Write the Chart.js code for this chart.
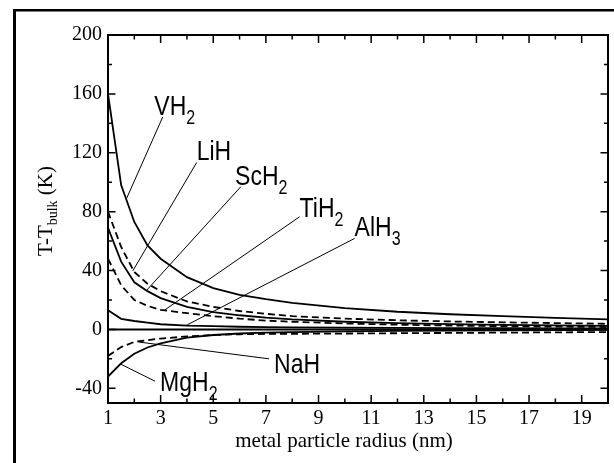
<!DOCTYPE html>
<html><head><meta charset="utf-8">
<script src="https://cdn.jsdelivr.net/npm/chart.js@4"></script>
<style>html,body{margin:0;padding:0;background:#fff;} #wrap{width:614px;height:463px;position:relative;}</style>
</head><body><div id="wrap"><canvas id="c" width="614" height="463"></canvas></div>
<script>
// ---- data ----
const radius = [1,1.5,2,2.5,3,4,5,6,7,8,10,12,14,16,18,20];
const VH2  = [160,98,73,57,48,35.5,28,23.5,20.5,18,14.5,12,10.3,9,7.8,6.8];
const LiH  = [80,56,39,31,26,19,15.3,12.5,10.6,9,7.3,6.2,5.4,4.8,4.3,3.8];
const ScH2 = [69,46,32,26,21.3,15.3,11.8,9.6,8,6.8,5.2,4.3,3.6,3.1,2.7,2.4];
const TiH2 = [48,30,20,16,13.3,11,9,7.3,6,5.2,4,3.2,2.6,2.2,1.9,1.6];
const AlH3 = [13,7.2,5.7,4.6,3.5,2.6,2.2,1.8,1.6,1.4,1.2,1,0.9,0.8,0.7,0.6];
const NaH  = [-18,-12,-8.5,-7.3,-6.2,-4.8,-3.8,-3.3,-3.1,-3,-2.8,-2.6,-2.4,-2.2,-2,-1.8];
const MgH2 = [-32,-23,-16.5,-12.3,-9.5,-5.6,-3.8,-2.8,-2.2,-1.8,-1.3,-1,-0.8,-0.6,-0.4,-0.3];
const zeroX = [1,20];
const zeroY = [0,0];

const xMajorTicks = [1,3,5,7,9,11,13,15,17,19];
const xMinorTicks = [2,4,6,8,10,12,14,16,18,20];
const yMajorTicks = [-40,0,40,80,120,160,200];
const yMinorTicks = [-20,20,60,100,140,180];

// annotation labels (text anchor in data units: left / baseline)
const labelMain = ['VH','LiH','ScH','TiH','AlH','NaH','MgH'];
const labelSub  = ['2','','2','2','3','','2'];
const labelX    = [2.76,4.37,5.83,8.28,10.37,7.31,2.98];
const labelY    = [145.9,115.2,98.2,76.5,63.4,-29.3,-41.6];
// leader lines (from label to curve)
const leadFromX = [3.08,4.37,6.05,8.28,10.37,7.12,2.79];
const leadFromY = [144.3,113.4,97,76.5,61.8,-20,-35.2];
const leadToX   = [1.71,1.94,2.47,3.14,3.97,2.18,1.46];
const leadToY   = [89.1,39.7,26.6,13,2.7,-8.6,-23.4];

// ---- build datasets ----
function series(ys, dashed){
  return {data: radius.map((r,i)=>({x:r,y:ys[i]})), borderColor:'#000', borderWidth:1.8,
    borderDash: dashed?[7,4]:[], pointRadius:0, tension:0, fill:false};
}
const datasets = [
  series(VH2,false), series(LiH,true), series(ScH2,false), series(TiH2,true),
  series(AlH3,false), series(NaH,true), series(MgH2,false),
  {data: zeroX.map((x,i)=>({x:x,y:zeroY[i]})), borderColor:'#000', borderWidth:2, pointRadius:0}
];
for (let i=0;i<leadFromX.length;i++){
  datasets.push({data:[{x:leadFromX[i],y:leadFromY[i]},{x:leadToX[i],y:leadToY[i]}],
    borderColor:'#000', borderWidth:1, pointRadius:0});
}

const framePlugin = {
  id:'frame',
  beforeDraw(chart){
    const ctx = chart.ctx;
    ctx.save();
    ctx.fillStyle='#fff'; ctx.fillRect(0,0,chart.width,chart.height);
    ctx.fillStyle='#000';
    ctx.fillRect(13,9,3,chart.height);
    ctx.fillRect(13,9,chart.width,2.5);
    ctx.restore();
  },
  afterDraw(chart){
    const ctx = chart.ctx, a = chart.chartArea;
    const xs = chart.scales.x, ys = chart.scales.y;
    ctx.save();
    ctx.strokeStyle='#000';
    ctx.lineWidth=2;
    ctx.strokeRect(a.left,a.top,a.right-a.left,a.bottom-a.top);
    ctx.lineWidth=1.5;
    ctx.beginPath();
    const tx=(v,len)=>{const p=xs.getPixelForValue(v);
      ctx.moveTo(p,a.bottom);ctx.lineTo(p,a.bottom-len);
      ctx.moveTo(p,a.top);ctx.lineTo(p,a.top+len);};
    const ty=(v,len)=>{const p=ys.getPixelForValue(v);
      ctx.moveTo(a.left,p);ctx.lineTo(a.left+len,p);
      ctx.moveTo(a.right,p);ctx.lineTo(a.right-len,p);};
    xMajorTicks.forEach(v=>tx(v,8)); xMinorTicks.forEach(v=>tx(v,4.5));
    yMajorTicks.forEach(v=>ty(v,7.5)); yMinorTicks.forEach(v=>ty(v,4));
    ctx.stroke();

    // annotation labels
    ctx.fillStyle='#000';
    ctx.textBaseline='alphabetic';
    ctx.textAlign='left';
    const sy=1.23;
    for (let i=0;i<labelMain.length;i++){
      const px=xs.getPixelForValue(labelX[i]), py=ys.getPixelForValue(labelY[i]);
      ctx.save();
      ctx.translate(px,py); ctx.scale(1,sy);
      ctx.font='23px "Liberation Sans", Arial, sans-serif';
      ctx.fillText(labelMain[i],0,0);
      const w=ctx.measureText(labelMain[i]).width;
      if(labelSub[i]){
        ctx.font='16px "Liberation Sans", Arial, sans-serif';
        ctx.fillText(labelSub[i],w,7.3);
      }
      ctx.restore();
    }

    // axis titles
    ctx.font='21px "Liberation Serif", "Times New Roman", serif';
    ctx.textAlign='center';
    ctx.fillText('metal particle radius (nm)',344,447);
    // y title rotated
    ctx.save();
    ctx.translate(51.5,256);
    ctx.rotate(-Math.PI/2);
    ctx.textAlign='left';
    ctx.font='21px "Liberation Serif", "Times New Roman", serif';
    let xo=0;
    ctx.fillText('T-T',xo,0); xo+=ctx.measureText('T-T').width;
    ctx.font='14px "Liberation Serif", "Times New Roman", serif';
    ctx.fillText('bulk',xo,5); xo+=ctx.measureText('bulk').width;
    ctx.font='21px "Liberation Serif", "Times New Roman", serif';
    ctx.fillText(' (K)',xo,0);
    ctx.restore();
    ctx.restore();
  }
};

new Chart(document.getElementById('c'), {
  type:'line',
  data:{datasets},
  options:{
    responsive:false, animation:false, devicePixelRatio:1,
    layout:{padding:{top:35,right:6,left:0,bottom:0}},
    plugins:{legend:{display:false}, tooltip:{enabled:false}},
    scales:{
      x:{type:'linear', min:1, max:20,
        grid:{display:false, drawTicks:false}, border:{display:false},
        afterBuildTicks:(s)=>{ s.ticks = xMajorTicks.map(v=>({value:v})); },
        ticks:{autoSkip:false, maxRotation:0, padding:4, color:'#000',
          font:{family:'"Liberation Serif", "Times New Roman", serif', size:20}},
        afterFit:(s)=>{s.height=60;}
      },
      y:{type:'linear', min:-50, max:200,
        grid:{display:false, drawTicks:false}, border:{display:false},
        afterBuildTicks:(s)=>{ s.ticks = yMajorTicks.map(v=>({value:v})); },
        ticks:{autoSkip:false, padding:6, color:'#000',
          font:{family:'"Liberation Serif", "Times New Roman", serif', size:20}},
        afterFit:(s)=>{s.width=108;}
      }
    }
  },
  plugins:[framePlugin]
});
</script></body></html>
